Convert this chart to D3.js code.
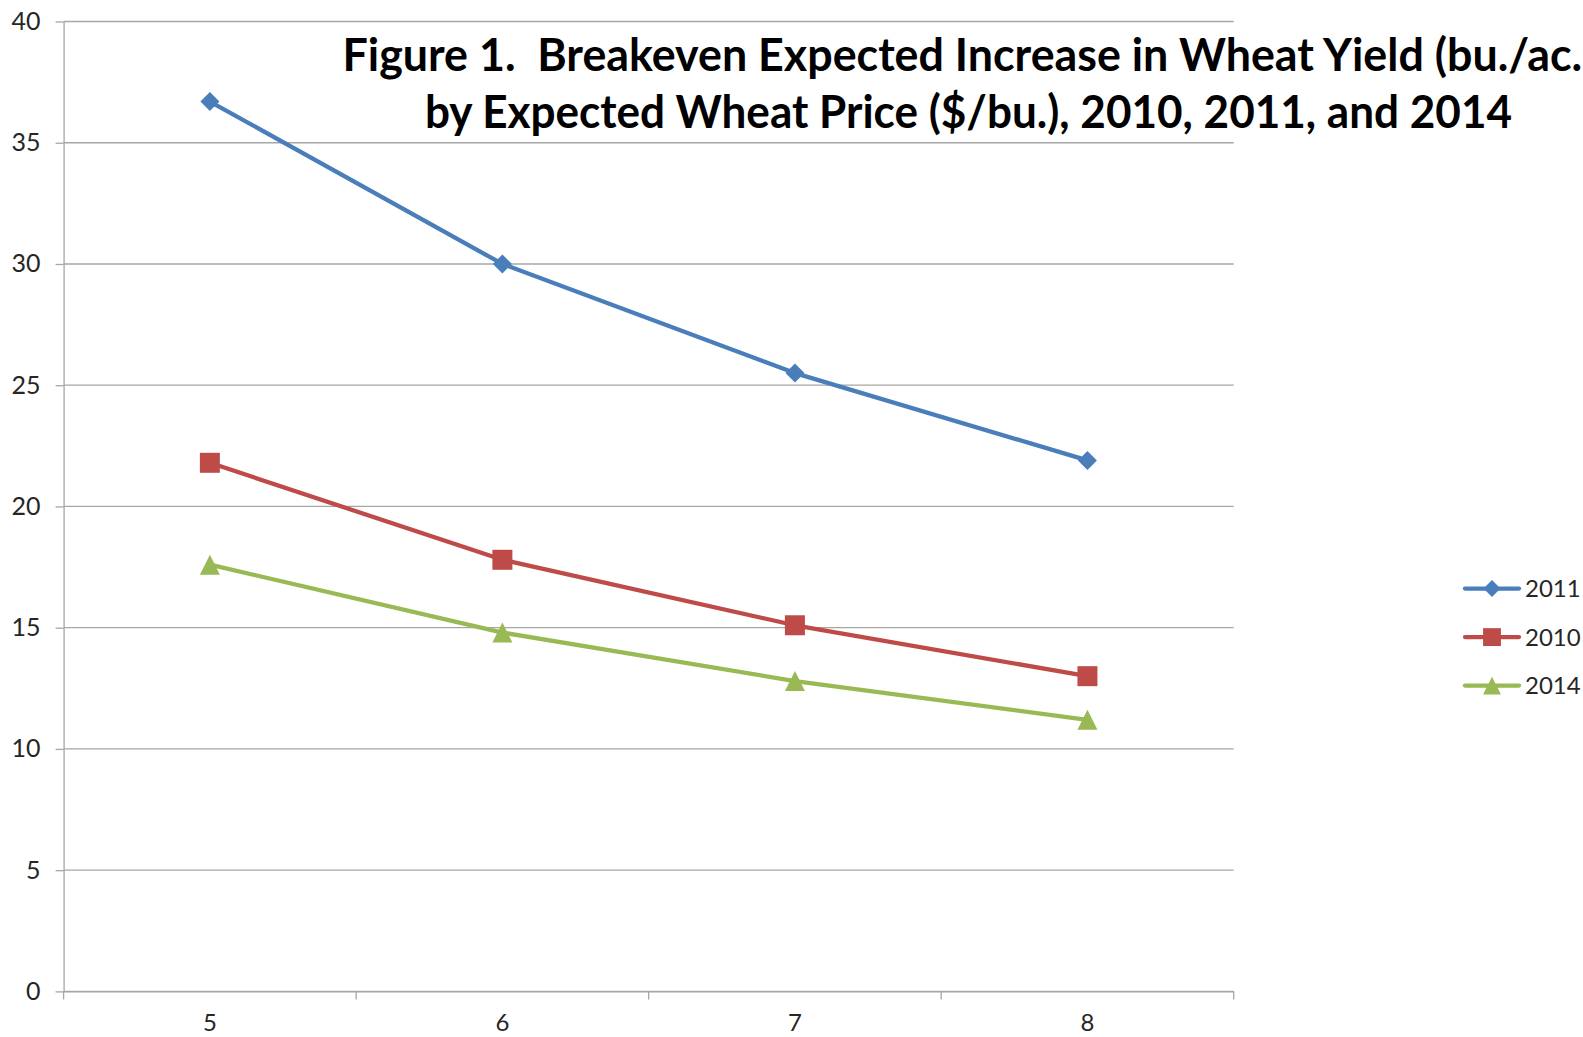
<!DOCTYPE html>
<html>
<head>
<meta charset="utf-8">
<script src="https://cdn.jsdelivr.net/npm/d3@7"></script>
<style>
  body { margin: 0; background: #ffffff; }
  svg { display: block; }
</style>
</head>
<body>
<svg id="chart"></svg>
<script>
// categories on the x axis (expected wheat price, $/bu.)
var categories = [5, 6, 7, 8];
// breakeven yield increase (bu./ac.) per series
var series2011 = [36.7, 30.0, 25.5, 21.9];
var series2010 = [21.8, 17.8, 15.1, 13.0];
var series2014 = [17.6, 14.8, 12.8, 11.2];
var seriesNames = ["2011", "2010", "2014"];
var yTicks = [0, 5, 10, 15, 20, 25, 30, 35, 40];
var titleLines = [
  "Figure 1.  Breakeven Expected Increase in Wheat Yield (bu./ac.)",
  "by Expected Wheat Price ($/bu.), 2010, 2011, and 2014"
];

var width = 1583, height = 1037;
var plotLeft = 63.6, plotRight = 1233.7, plotTop = 21.5, plotBottom = 991.4;
var gridColor = "#a6a6a6";
var labelFont = "Lato, 'Open Sans', sans-serif";

var svg = d3.select("#chart").attr("width", width).attr("height", height);

var x = d3.scaleBand().domain(categories).range([plotLeft, plotRight]).padding(0);
var y = d3.scaleLinear().domain([0, 40]).range([plotBottom, plotTop]);

//horizontal gridlines
svg.append("g").selectAll("line").data(yTicks).join("line")
  .attr("x1", plotLeft).attr("x2", plotRight)
  .attr("y1", function(d){ return y(d); }).attr("y2", function(d){ return y(d); })
  .attr("stroke", gridColor).attr("stroke-width", 1.3);

//y axis
var yAxis = svg.append("g")
  .attr("transform", "translate(" + plotLeft + ",0)")
  .call(d3.axisLeft(y).tickValues(yTicks).tickSize(8).tickPadding(15).tickSizeOuter(0));
yAxis.select(".domain").attr("stroke", gridColor).attr("stroke-width", 1.3);
yAxis.selectAll(".tick line").attr("stroke", gridColor).attr("stroke-width", 1.3);
yAxis.selectAll("text").attr("font-family", labelFont).attr("font-size", 25).attr("fill", "#262626");

//x axis: labels centered in bands, ticks between categories
var xAxis = svg.append("g")
  .attr("transform", "translate(0," + plotBottom + ")")
  .call(d3.axisBottom(x).tickSize(0).tickPadding(23));
xAxis.select(".domain").attr("stroke", gridColor).attr("stroke-width", 1.3);
xAxis.selectAll("text").attr("font-family", labelFont).attr("font-size", 24).attr("fill", "#262626");

var edges = categories.map(function(c){ return x(c); }).concat([x(categories[categories.length - 1]) + x.bandwidth()]);
xAxis.append("g").selectAll("line").data(edges).join("line")
  .attr("x1", function(d){ return d; }).attr("x2", function(d){ return d; })
  .attr("y1", 0).attr("y2", 8)
  .attr("stroke", gridColor).attr("stroke-width", 1.3);

//marker shapes (Excel style)
var diamondType = { draw: function(ctx, size){
  var r = Math.sqrt(size) / 2;
  ctx.moveTo(0, -r); ctx.lineTo(r, 0); ctx.lineTo(0, r); ctx.lineTo(-r, 0); ctx.closePath();
}};
var squareType = { draw: function(ctx, size){
  var r = Math.sqrt(size) / 2;
  ctx.rect(-r, -r, 2 * r, 2 * r);
}};
var triangleType = { draw: function(ctx, size){
  var r = Math.sqrt(size) / 2;
  ctx.moveTo(0, -r); ctx.lineTo(r, r); ctx.lineTo(-r, r); ctx.closePath();
}};

var seriesList = [
  { name: seriesNames[0], values: series2011, color: "#4a7ebb", type: diamondType, size: 19 * 19 },
  { name: seriesNames[1], values: series2010, color: "#be4b48", type: squareType, size: 20 * 20 },
  { name: seriesNames[2], values: series2014, color: "#98b954", type: triangleType, size: 20 * 20 }
];

var line = d3.line()
  .x(function(d, i){ return x(categories[i]) + x.bandwidth() / 2; })
  .y(function(d){ return y(d); });

seriesList.forEach(function(s){
  svg.append("path")
    .attr("d", line(s.values))
    .attr("fill", "none")
    .attr("stroke", s.color)
    .attr("stroke-width", 4.3)
    .attr("stroke-linejoin", "round");
  svg.append("g").selectAll("path").data(s.values).join("path")
    .attr("transform", function(d, i){
      return "translate(" + (x(categories[i]) + x.bandwidth() / 2) + "," + y(d) + ")";
    })
    .attr("d", d3.symbol().type(s.type).size(s.size)())
    .attr("fill", s.color);
});

//legend
var legend = svg.append("g").attr("transform", "translate(1465,588.6)");
seriesList.forEach(function(s, i){
  var row = legend.append("g").attr("transform", "translate(0," + (i * 48.5) + ")");
  row.append("line").attr("x1", 0).attr("x2", 54).attr("y1", 0).attr("y2", 0)
    .attr("stroke", s.color).attr("stroke-width", 4.3).attr("stroke-linecap", "round");
  row.append("path").attr("transform", "translate(27,0)")
    .attr("d", d3.symbol().type(s.type).size(s.size * 0.8)())
    .attr("fill", s.color);
  row.append("text").attr("x", 60).attr("y", 0).attr("dy", "0.36em")
    .attr("font-family", labelFont).attr("font-size", 24).attr("fill", "#262626")
    .text(s.name);
});

//title
var titleBaselines = [70.7, 128.2];
var titleWidths = [1252, 1087];
titleLines.forEach(function(t, i){
  svg.append("text")
    .attr("x", 968.5).attr("y", titleBaselines[i])
    .attr("text-anchor", "middle")
    .attr("font-family", "Lato, 'Open Sans', sans-serif")
    .attr("font-weight", "bold")
    .attr("font-size", 45)
    .attr("fill", "#000000")
    .attr("textLength", titleWidths[i])
    .attr("lengthAdjust", "spacingAndGlyphs")
    .style("white-space", "pre")
    .text(t);
});
</script>
</body>
</html>
